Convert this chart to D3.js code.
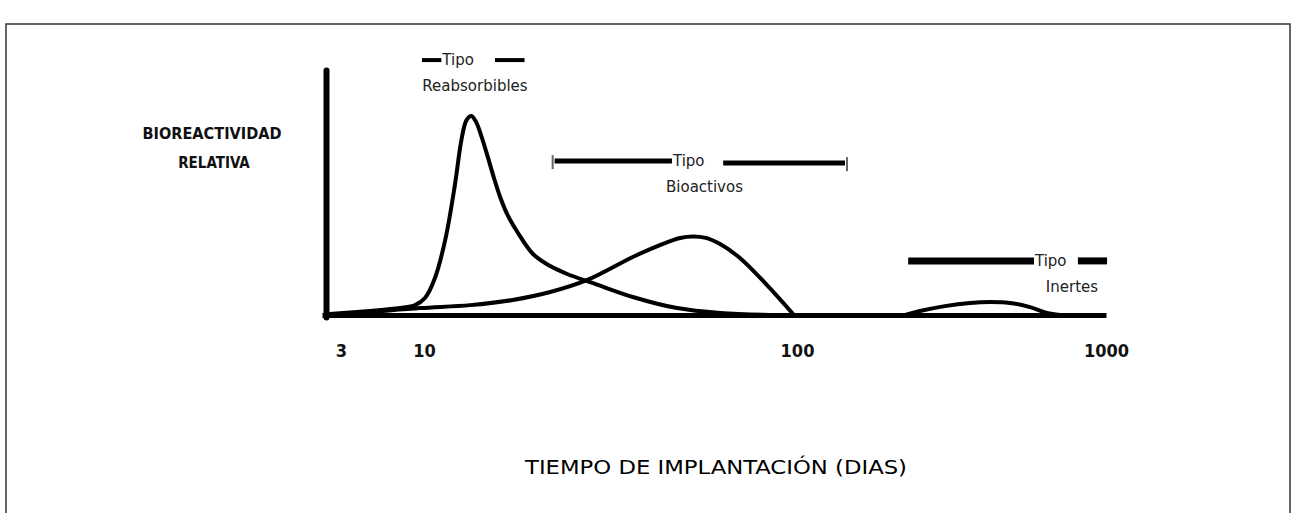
<!DOCTYPE html>
<html>
<head>
<meta charset="utf-8">
<script src="https://cdn.jsdelivr.net/npm/d3@7"></script>
<style>
  body { margin: 0; background: #fff; }
  svg { display: block; }
</style>
</head>
<body>
<svg></svg>
<script>
// chart size
var width = 1293;
var height = 513;

// x axis ticks (days, hand drawn log axis)
var tickDays = [3, 10, 100, 1000];
var tickLabels = ['3', '10', '100', '1000'];

// curve 1 - reabsorbibles
var reabDays = [2.56, 4.57, 7.06, 8.78, 10.06, 10.7, 11.4, 12.1, 12.6, 13.0, 13.4, 13.8, 14.3, 14.85, 15.4, 16.0, 16.8, 17.8, 19.6, 21.8, 24.2, 28.4, 36.3, 47.7, 62.2, 84.6];
var reabValues = [0.4, 1.6, 2.8, 4.0, 6.9, 15.0, 30.4, 52.6, 70.9, 78.9, 80.6, 78.1, 71.7, 63.6, 55.5, 47.8, 40.1, 33.6, 24.7, 19.8, 16.6, 12.9, 7.3, 2.8, 0.8, 0];

// curve 2 - bioactivos
var bioDays = [2.56, 4.57, 9.44, 13.3, 17.3, 21.8, 27.4, 36.3, 42.9, 48.6, 52.6, 57.0, 62.2, 70.3, 83.1, 97.6];
var bioValues = [0, 1.2, 2.8, 4.0, 6.1, 9.3, 14.2, 23.5, 28.3, 31.2, 31.8, 31.2, 28.7, 23.1, 12.1, 0.4];

// curve 3 - inertes
var inertDays = [224, 250, 301, 363, 421, 489, 568, 644, 710];
var inertValues = [0, 1.6, 3.6, 4.9, 5.3, 4.9, 3.2, 0.8, 0];

// type brackets: [start, tipo text, gap end, end] in days
var typeNames = ['Reabsorbibles', 'Bioactivos', 'Inertes'];
var typeRanges = [[9.71, 11.2, 15.5, 18.6], [22.4, 46.5, 63.4, 143], [229, 589, 811, 1008]];
var typeLevels = [103.2, 62.3, 21.9];
var typeNameDays = [13.7, 56.5, 776];

var svg = d3.select('svg')
    .attr('width', width)
    .attr('height', height);

// frame
svg.append('rect')
    .attr('x', 6)
    .attr('y', 24)
    .attr('width', 1284)
    .attr('height', 520)
    .style('fill', 'none')
    .style('stroke', '#333')
    .style('stroke-width', 1.5);

// piecewise log scale, the drawing is not a true log axis
var xScale = d3.scaleLog()
    .domain([2.28, 3, 10, 100, 1000])
    .range([322, 341, 424, 797, 1106]);

var yScale = d3.scaleLinear()
    .domain([0, 100])
    .range([315, 68]);

var font = "'DejaVu Sans', sans-serif";
var condensed = "'DejaVu Sans Condensed', 'DejaVu Sans', sans-serif";

// x axis
var xAxis = d3.axisBottom(xScale)
    .tickValues(tickDays)
    .tickFormat((d, i) => tickLabels[i])
    .tickSize(0)
    .tickPadding(29);

var gx = svg.append('g')
    .attr('transform', 'translate(0,' + yScale(0) + ')')
    .call(xAxis);
gx.select('.domain')
    .style('stroke', '#000')
    .style('stroke-width', 5);
gx.selectAll('text')
    .style('font-family', condensed)
    .style('font-weight', 'bold')
    .style('font-size', '18px')
    .style('fill', '#111');

// y axis, no ticks
var yAxis = d3.axisLeft(yScale).tickValues([]).tickSizeOuter(0);
var gy = svg.append('g')
    .attr('transform', 'translate(326,2)')
    .call(yAxis);
gy.select('.domain')
    .style('stroke', '#000')
    .style('stroke-width', 6)
    .style('stroke-linecap', 'round');

// curves
var line = d3.line()
    .x(d => xScale(d[0]))
    .y(d => yScale(d[1]))
    .curve(d3.curveCatmullRom.alpha(0.5));

var curves = [
  d3.zip(reabDays, reabValues),
  d3.zip(bioDays, bioValues),
  d3.zip(inertDays, inertValues)
];

svg.selectAll('path.curve')
  .data(curves)
  .enter()
  .append('path')
    .attr('class', 'curve')
    .attr('d', line)
    .style('fill', 'none')
    .style('stroke', '#000')
    .style('stroke-width', 4)
    .style('stroke-linejoin', 'round')
    .style('stroke-linecap', 'round');

// type brackets
var lineWidths = [4, 5, 7];
typeNames.forEach(function(name, i) {
  var r = typeRanges[i];
  var y = yScale(typeLevels[i]);
  svg.append('line')
      .attr('x1', xScale(r[0])).attr('x2', xScale(r[1]) - 1)
      .attr('y1', y).attr('y2', y)
      .style('stroke', '#000').style('stroke-width', lineWidths[i]);
  svg.append('line')
      .attr('x1', xScale(r[2])).attr('x2', xScale(r[3]))
      .attr('y1', y + (i == 1 ? 2 : 0)).attr('y2', y + (i == 1 ? 2 : 0))
      .style('stroke', '#000').style('stroke-width', lineWidths[i]);
  svg.append('text')
      .attr('x', xScale(r[1]))
      .attr('y', y + 5)
      .style('font-family', font)
      .style('font-size', '15px')
      .style('fill', '#222')
      .text('Tipo');
  svg.append('text')
      .attr('x', xScale(typeNameDays[i]))
      .attr('y', y + 31)
      .attr('text-anchor', 'middle')
      .style('font-family', font)
      .style('font-size', '15px')
      .style('fill', '#222')
      .text(name);
  // end ticks on the bioactivos bracket
  if (i == 1) {
    [r[0], r[3]].forEach(function(d, k) {
      svg.append('line')
          .attr('x1', xScale(d) + (k ? 2 : -2)).attr('x2', xScale(d) + (k ? 2 : -2))
          .attr('y1', y - 6 + k * 2).attr('y2', y + 8 + k * 2)
          .style('stroke', '#666').style('stroke-width', 2);
    });
  }
});

// y label
svg.append('text')
    .attr('x', 212)
    .attr('y', 139)
    .attr('text-anchor', 'middle')
    .attr('textLength', 139)
    .attr('lengthAdjust', 'spacingAndGlyphs')
    .style('font-family', condensed)
    .style('font-weight', 'bold')
    .style('font-size', '15px')
    .style('fill', '#111')
    .text('BIOREACTIVIDAD');
svg.append('text')
    .attr('x', 214)
    .attr('y', 168)
    .attr('text-anchor', 'middle')
    .style('font-family', condensed)
    .style('font-weight', 'bold')
    .style('font-size', '15px')
    .style('fill', '#111')
    .text('RELATIVA');

// x title
svg.append('text')
    .attr('x', 716)
    .attr('y', 474)
    .attr('text-anchor', 'middle')
    .attr('textLength', 382)
    .attr('lengthAdjust', 'spacingAndGlyphs')
    .style('font-family', condensed)
    .style('font-size', '20px')
    .style('fill', '#000')
    .text('TIEMPO DE IMPLANTACIÓN (DIAS)');
</script>
</body>
</html>
